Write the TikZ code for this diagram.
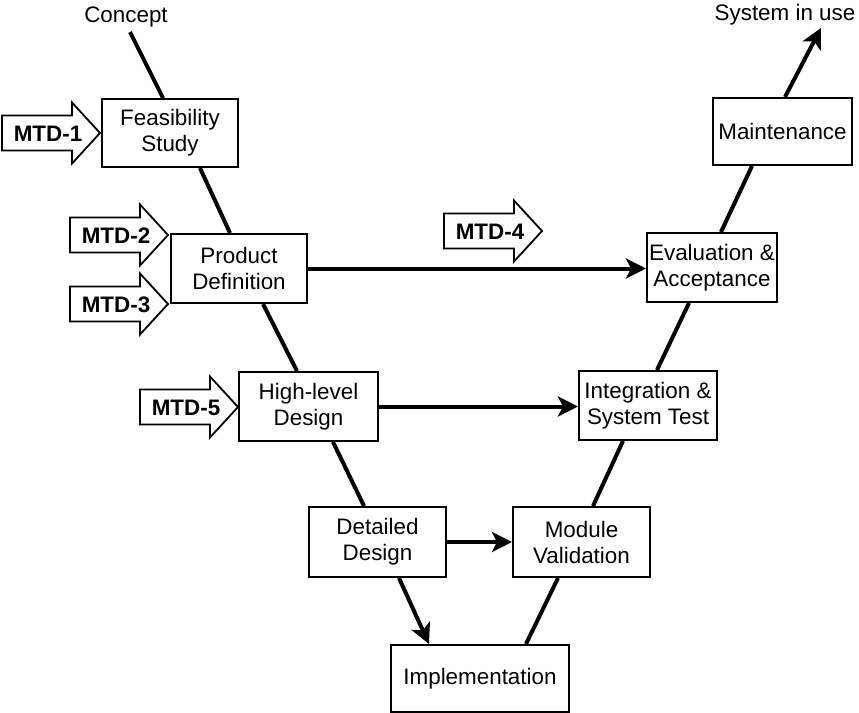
\documentclass[tikz,border=0pt]{standalone}
\usepackage{fontspec}
\setmainfont{Liberation Sans}
\usetikzlibrary{arrows.meta}
\begin{document}
\begin{tikzpicture}[x=0.5pt,y=-0.5pt,
  every node/.style={font=\fontsize{11.2}{13}\selectfont},
  stage/.style={draw, line width=1pt, align=center, inner sep=0pt},
  flow/.style={line width=2pt},
  flowarrow/.style={line width=2pt, -{Stealth[length=10pt,width=10pt,inset=2.5pt]}},
  mtd/.pic={
    \draw[line width=0.9pt, line join=miter, fill=white]
      (0,0) -- (-28,-30.5) -- (-28,-17.5) -- (-98,-17.5) -- (-98,17.5)
      -- (-28,17.5) -- (-28,30.5) -- cycle;
    \node[font=\fontsize{11.2}{13}\selectfont\bfseries] (-t) at (-52,1) {#1};
  }]
\useasboundingbox (0,0) rectangle (859,713);

% labels at the two ends of the V
\node (concept) at (126,17) {Concept};
\node (inuse) at (785,15) {System in use};
\coordinate (cstart) at (130,32);
\coordinate (uend) at (821,28);

% life-cycle stages
\node[stage, minimum width=68pt,   minimum height=34pt]   (feas)  at (170,133)    {Feasibility\\Study};
\node[stage, minimum width=68pt,   minimum height=34.5pt] (prod)  at (239,268.5)  {Product\\Definition};
\node[stage, minimum width=69.5pt, minimum height=34.5pt] (high)  at (308.5,406.5) {High-level\\Design};
\node[stage, minimum width=68.5pt, minimum height=35pt]   (det)   at (377.5,542)  {Detailed\\Design};
\node[stage, minimum width=89pt,   minimum height=33.5pt] (impl)  at (480,678.5)  {Implementation};
\node[stage, minimum width=68.5pt, minimum height=35pt]   (mod)   at (581.5,542)  {Module\\Validation};
\node[stage, minimum width=69pt,   minimum height=34.5pt] (integ) at (648,405.5)  {Integration \&\\System Test};
\node[stage, minimum width=65pt,   minimum height=34.5pt] (eval)  at (712,267.5)  {Evaluation \&\\Acceptance};
\node[stage, minimum width=69.5pt, minimum height=33.5pt] (maint) at (782.5,131.5) {Maintenance};

% the V
\draw[flow] (cstart) -- ([xshift=-3.5pt]feas.north);
\draw[flow] ([xshift=15pt]feas.south) -- ([xshift=-4.5pt]prod.north);
\draw[flow] ([xshift=12pt]prod.south) -- ([xshift=-5.75pt]high.north);
\draw[flow] ([xshift=12.25pt]high.south) -- ([xshift=-6.75pt]det.north);
\draw[flowarrow] ([xshift=10.75pt]det.south) -- ([xshift=-25.5pt]impl.north);
\draw[flow] ([xshift=23pt]impl.north) -- ([xshift=-11.75pt]mod.south);
\draw[flow] ([xshift=5.75pt]mod.north) -- ([xshift=-12.5pt]integ.south);
\draw[flow] ([xshift=4.5pt]integ.north) -- ([xshift=-11.5pt]eval.south);
\draw[flow] ([xshift=4.5pt]eval.north) -- ([xshift=-15.25pt]maint.south);
\draw[flowarrow] ([xshift=1.25pt]maint.north) -- (uend);

% cross links
\draw[flowarrow] (prod.east) -- (prod.east -| eval.west);
\draw[flowarrow] (high.east) -- (high.east -| integ.west);
\draw[flowarrow] (det.east) -- (mod.west);

% method inputs
\pic (m1) at (100,133) {mtd=MTD-1};
\pic (m2) at (168,235) {mtd=MTD-2};
\pic (m3) at (168,304) {mtd=MTD-3};
\pic (m5) at (238,407) {mtd=MTD-5};
\pic (m4) at (542,231) {mtd=MTD-4};
\end{tikzpicture}
\end{document}
